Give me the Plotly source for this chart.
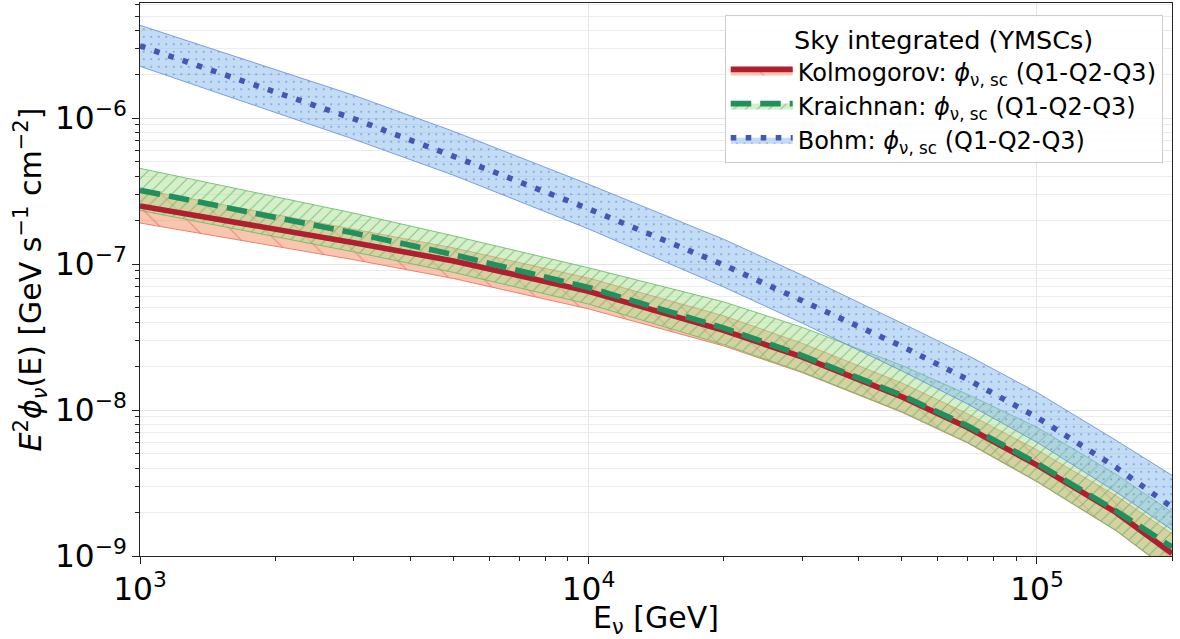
import plotly.graph_objects as go

# ---------------- data ----------------
E_GEV = [1e3, 2e3, 3e3, 5e3, 1e4, 2e4, 3e4, 5e4, 7e4, 1e5, 1.5e5, 2e5]

KOLMO_Q1 = [1.91e-7, 1.33e-7, 1.07e-7, 7.96e-8, 4.93e-8, 2.75e-8, 1.80e-8, 9.64e-9, 5.95e-9, 3.22e-9, 1.49e-9, 7.67e-10]
KOLMO_Q2 = [2.50e-7, 1.74e-7, 1.40e-7, 1.05e-7, 6.50e-8, 3.51e-8, 2.30e-8, 1.23e-8, 7.59e-9, 4.19e-9, 1.99e-9, 1.04e-9]
KOLMO_Q3 = [3.25e-7, 2.19e-7, 1.74e-7, 1.29e-7, 8.01e-8, 4.42e-8, 2.86e-8, 1.53e-8, 9.43e-9, 5.33e-9, 2.59e-9, 1.42e-9]

KRAICH_Q1 = [2.33e-7, 1.54e-7, 1.21e-7, 8.76e-8, 5.32e-8, 2.81e-8, 1.82e-8, 9.74e-9, 6.01e-9, 3.25e-9, 1.50e-9, 7.76e-10]
KRAICH_Q2 = [3.20e-7, 2.09e-7, 1.63e-7, 1.16e-7, 6.90e-8, 3.65e-8, 2.36e-8, 1.26e-8, 7.79e-9, 4.31e-9, 2.04e-9, 1.15e-9]
KRAICH_Q3 = [4.52e-7, 2.89e-7, 2.23e-7, 1.56e-7, 9.42e-8, 5.51e-8, 3.68e-8, 2.02e-8, 1.28e-8, 7.61e-9, 3.63e-9, 1.99e-9]

BOHM_Q1 = [2.26e-6, 1.09e-6, 7.15e-7, 4.06e-7, 1.74e-7, 6.97e-8, 3.93e-8, 1.85e-8, 1.10e-8, 6.01e-9, 2.75e-9, 1.51e-9]
BOHM_Q2 = [3.12e-6, 1.52e-6, 9.87e-7, 5.47e-7, 2.39e-7, 9.87e-8, 5.64e-8, 2.73e-8, 1.62e-8, 8.91e-9, 4.05e-9, 2.16e-9]
BOHM_Q3 = [4.32e-6, 2.16e-6, 1.43e-6, 8.11e-7, 3.52e-7, 1.48e-7, 8.37e-8, 3.93e-8, 2.37e-8, 1.32e-8, 6.20e-9, 3.57e-9]

LEGEND_TITLE = "Sky integrated (YMSCs)"
LABELS = [
    "Kolmogorov: <i>ϕ</i><sub>ν, sc</sub> (Q1-Q2-Q3)",
    "Kraichnan: <i>ϕ</i><sub>ν, sc</sub> (Q1-Q2-Q3)",
    "Bohm: <i>ϕ</i><sub>ν, sc</sub> (Q1-Q2-Q3)",
]
X_TITLE = "E<sub>ν</sub> [GeV]"
Y_TITLE = "<i>E</i><sup>2</sup><i>ϕ</i><sub><i>ν</i></sub>(E) [GeV s<sup>−1</sup> cm<sup>−2</sup>]"

FONT = "DejaVu Sans"

models = [
    dict(q1=KOLMO_Q1, q2=KOLMO_Q2, q3=KOLMO_Q3, label=LABELS[0], key="kolmo",
         fill="rgba(245,140,95,0.5)", edge="rgba(232,120,100,0.9)",
         hatch=dict(shape="\\", size=24, solidity=0.045, fgcolor="rgb(225,110,95)", fgopacity=0.7),
         line=dict(color="#B01E2F", width=5.6, dash="solid")),
    dict(q1=KRAICH_Q1, q2=KRAICH_Q2, q3=KRAICH_Q3, label=LABELS[1], key="kraich",
         fill="rgba(172,225,145,0.5)", edge="rgba(110,190,110,0.9)",
         hatch=dict(shape="/", size=8.3, solidity=0.12, fgcolor="rgb(95,170,100)", fgopacity=0.7),
         line=dict(color="#21905F", width=5.6, dash="20.5px,9px")),
    dict(q1=BOHM_Q1, q2=BOHM_Q2, q3=BOHM_Q3, label=LABELS[2], key="bohm",
         fill="rgba(135,185,238,0.5)", edge="rgba(110,150,220,0.9)",
         hatch=dict(shape=".", size=7.5, solidity=0.06, fgcolor="rgb(110,140,210)", fgopacity=0.8),
         line=dict(color="#4457B5", width=5.6, dash="5.6px,9.4px")),
]

fig = go.Figure()

# bands (Q1 .. Q3)
for m in models:
    fig.add_trace(go.Scatter(x=E_GEV, y=m["q1"], mode="lines",
                             line=dict(color=m["edge"], width=1),
                             showlegend=False, hoverinfo="skip"))
    pat = dict(m["hatch"])
    pat["bgcolor"] = m["fill"]
    fig.add_trace(go.Scatter(x=E_GEV, y=m["q3"], mode="lines", fill="tonexty",
                             fillcolor=m["fill"], fillpattern=pat,
                             line=dict(color=m["edge"], width=1),
                             showlegend=False, hoverinfo="skip"))

# median lines (Q2)
for m in models:
    fig.add_trace(go.Scatter(x=E_GEV, y=m["q2"], mode="lines",
                             line=m["line"], showlegend=False))

# legend entries (band patch + median line style)
for m in models:
    pat = dict(m["hatch"])
    pat["bgcolor"] = m["fill"]
    fig.add_trace(go.Scatter(x=[None], y=[None], mode="lines", fill="toself",
                             fillcolor=m["fill"], fillpattern=pat,
                             line=m["line"], name=m["label"], showlegend=True,
                             legendgroup=m["key"]))

axis_common = dict(
    type="log", showline=True, mirror=True, linecolor="#222", linewidth=1.2,
    ticks="outside", ticklen=7, tickwidth=1.2, tickcolor="#222",
    tickfont=dict(family=FONT, size=25, color="#000"),
    exponentformat="power", dtick=1, gridcolor="#e4e4e4", gridwidth=1,
    zeroline=False,
)

fig.update_xaxes(**axis_common, range=[3, 5.30103],
                 minor=dict(ticks="outside", ticklen=4, tickwidth=1, tickcolor="#222",
                            dtick="D1", showgrid=False),
                 title=dict(text=X_TITLE, font=dict(family=FONT, size=30, color="#000"), standoff=4))
fig.update_yaxes(**axis_common, range=[-9, -5.212],
                 minor=dict(ticks="outside", ticklen=4, tickwidth=1, tickcolor="#222",
                            dtick="D1", showgrid=True, gridcolor="#ececec", gridwidth=1),
                 title=dict(text=Y_TITLE, font=dict(family=FONT, size=30, color="#000"), standoff=4))

fig.update_layout(
    width=1180, height=639,
    margin=dict(l=140, r=8, t=3, b=83),
    paper_bgcolor="white", plot_bgcolor="white",
    font=dict(family=FONT, color="#000"),
    legend=dict(
        x=0.991, y=0.978, xanchor="right", yanchor="top",
        traceorder="normal", tracegroupgap=5,
        bgcolor="rgba(255,255,255,0.85)", bordercolor="#cccccc", borderwidth=1,
        font=dict(family=FONT, size=24, color="#000"),
        title=dict(text=LEGEND_TITLE, side="top center",
                   font=dict(family=FONT, size=25.5, color="#000")),
        itemwidth=62,
    ),
)

fig.write_html("out.html")
